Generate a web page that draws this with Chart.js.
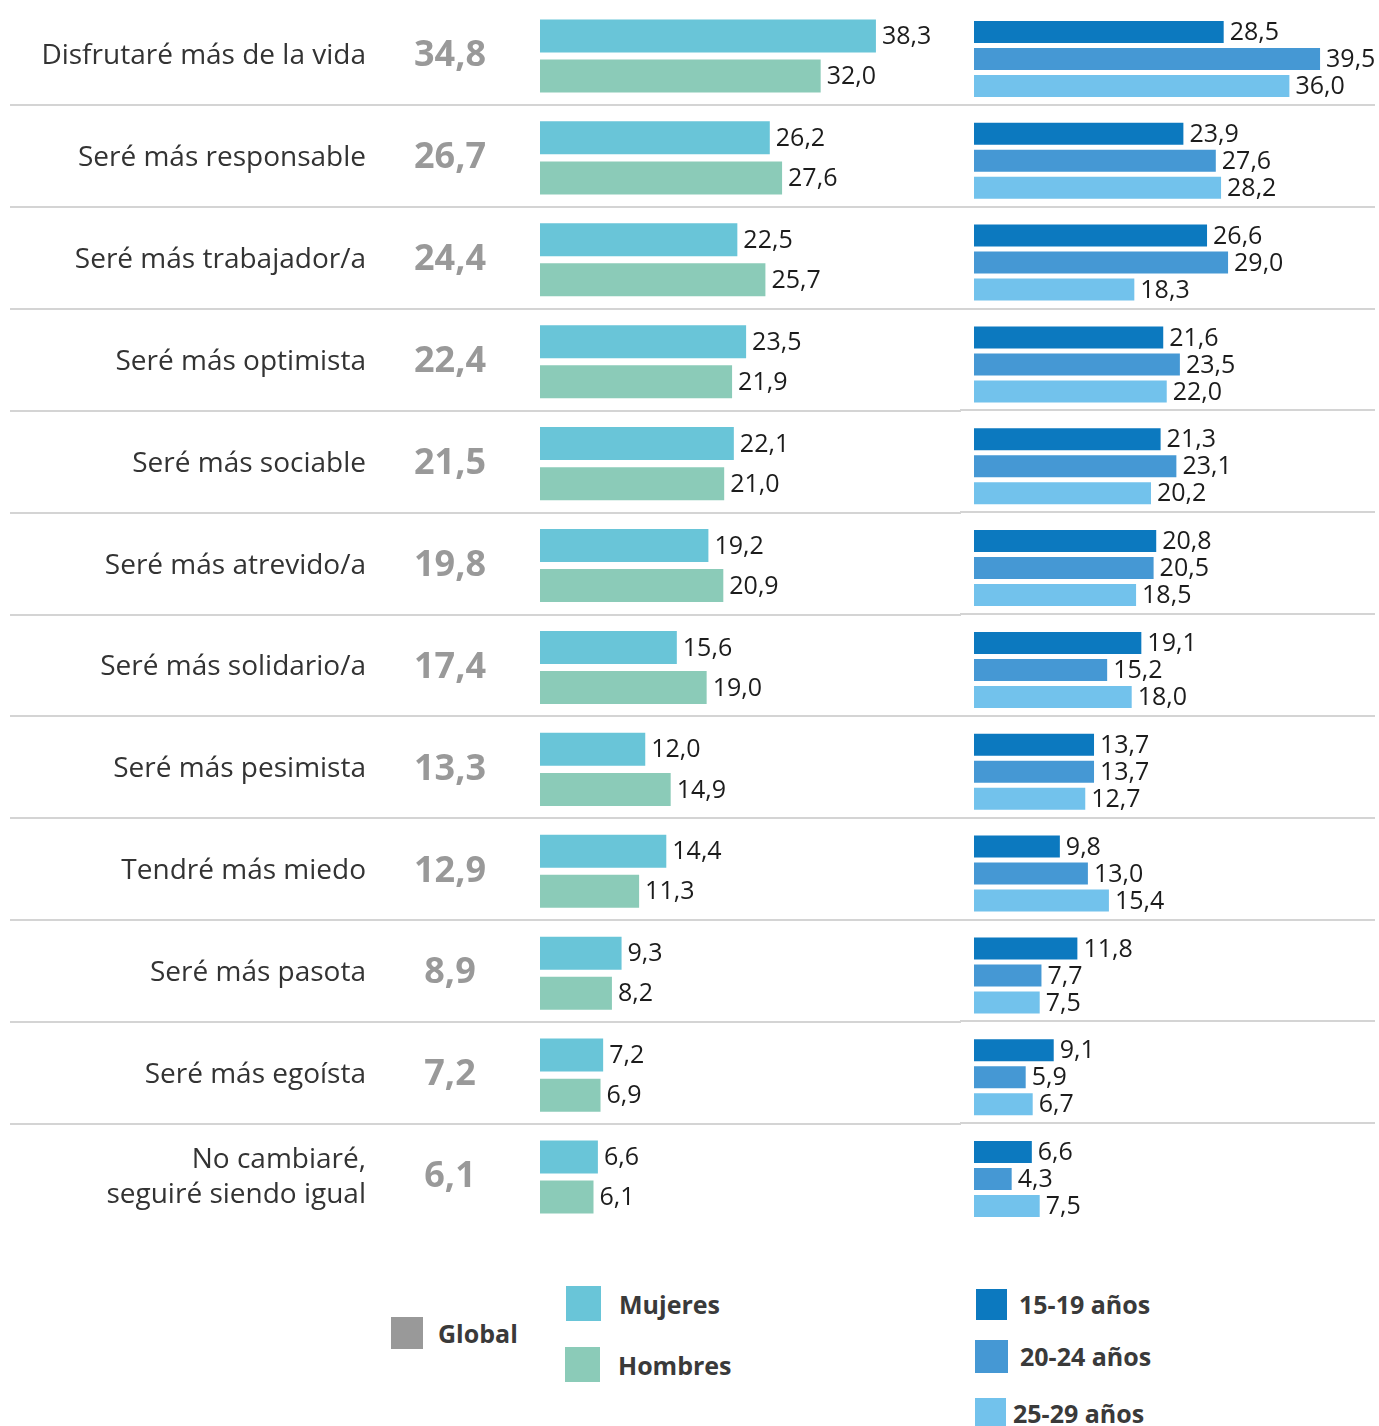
<!DOCTYPE html>
<html lang="es">
<head>
<meta charset="utf-8">
<title>Cómo cambiaré</title>
<script src="https://cdn.jsdelivr.net/npm/chart.js@4.4.1/dist/chart.umd.min.js"></script>
<style>
  html, body { margin: 0; padding: 0; background: #fff; }
  body { width: 1379px; height: 1426px; position: relative; overflow: hidden; font-family: "Open Sans", sans-serif; }
  canvas { position: absolute; top: 0; }
  #graficoSexo { left: 0; }
  #graficoEdad { left: 960px; }
  .leyenda { position: absolute; display: flex; align-items: center; font-weight: 700; font-size: 25px; color: #3a3a3a; white-space: nowrap; }
  .leyenda .caja { display: inline-block; flex: none; }
</style>
</head>
<body>
<canvas id="graficoSexo" width="961" height="1230"></canvas>
<canvas id="graficoEdad" width="419" height="1230"></canvas>
<div id="leyendas"></div>

<script>
// ================================
// Datos (%)
// ================================
const categorias = [
  "Disfrutaré más de la vida",
  "Seré más responsable",
  "Seré más trabajador/a",
  "Seré más optimista",
  "Seré más sociable",
  "Seré más atrevido/a",
  "Seré más solidario/a",
  "Seré más pesimista",
  "Tendré más miedo",
  "Seré más pasota",
  "Seré más egoísta",
  ["No cambiaré,", "seguiré siendo igual"],
];

const global   = [34.8, 26.7, 24.4, 22.4, 21.5, 19.8, 17.4, 13.3, 12.9, 8.9, 7.2, 6.1];
const mujeres  = [38.3, 26.2, 22.5, 23.5, 22.1, 19.2, 15.6, 12.0, 14.4, 9.3, 7.2, 6.6];
const hombres  = [32.0, 27.6, 25.7, 21.9, 21.0, 20.9, 19.0, 14.9, 11.3, 8.2, 6.9, 6.1];
const edad1519 = [28.5, 23.9, 26.6, 21.6, 21.3, 20.8, 19.1, 13.7, 9.8, 11.8, 9.1, 6.6];
const edad2024 = [39.5, 27.6, 29.0, 23.5, 23.1, 20.5, 15.2, 13.7, 13.0, 7.7, 5.9, 4.3];
const edad2529 = [36.0, 28.2, 18.3, 22.0, 20.2, 18.5, 18.0, 12.7, 15.4, 7.5, 6.7, 7.5];

const nombresSexo = ["Mujeres", "Hombres"];
const nombresEdad = ["15-19 años", "20-24 años", "25-29 años"];

// ================================
// Estilos
// ================================
const FUENTE = "'Open Sans', sans-serif";
const COLOR_GLOBAL = "#999999";
const COLORES_SEXO = ["#69c5d8", "#8bcbb8"];
const COLORES_EDAD = ["#0c79bf", "#4598d4", "#72c2ec"];

const formato = (v) => v.toFixed(1).replace(".", ",");

// Centro de la fila i
function centroFila(chart, i) {
  return chart.scales.y.getPixelForValue(i);
}

// Líneas grises separando cada fila
const separadores = {
  id: "separadores",
  beforeDatasetsDraw(chart, args, opts) {
    const ctx = chart.ctx;
    const dy = opts.dy || 0;
    ctx.save();
    ctx.strokeStyle = "#d4d4d4";
    ctx.lineWidth = 2;
    for (let i = 0; i < categorias.length - 1; i++) {
      const y = Math.round((centroFila(chart, i) + centroFila(chart, i + 1)) / 2 + dy);
      ctx.beginPath();
      ctx.moveTo(opts.x0, y);
      ctx.lineTo(opts.x1, y);
      ctx.stroke();
    }
    ctx.restore();
  },
};

// Valor al final de cada barra
const valores = {
  id: "valores",
  afterDatasetsDraw(chart) {
    const ctx = chart.ctx;
    ctx.save();
    ctx.font = "400 25px " + FUENTE;
    ctx.fillStyle = "#1c1c1c";
    ctx.textAlign = "left";
    ctx.textBaseline = "middle";
    chart.data.datasets.forEach((ds, d) => {
      chart.getDatasetMeta(d).data.forEach((barra, i) => {
        ctx.fillText(formato(ds.data[i]), barra.x + 6, barra.y + 1);
      });
    });
    ctx.restore();
  },
};

// Porcentaje global en gris, junto a la etiqueta
const globales = {
  id: "globales",
  afterDraw(chart) {
    const ctx = chart.ctx;
    ctx.save();
    ctx.font = "700 36px " + FUENTE;
    ctx.fillStyle = COLOR_GLOBAL;
    ctx.textAlign = "center";
    ctx.textBaseline = "middle";
    global.forEach((v, i) => ctx.fillText(formato(v), 450, centroFila(chart, i)));
    ctx.restore();
  },
};

const opcionesBase = {
  indexAxis: "y",
  responsive: false,
  animation: false,
  devicePixelRatio: 1,
  plugins: { legend: { display: false }, tooltip: { enabled: false } },
};

// ================================
// Gráfico por sexo (con etiquetas)
// ================================
new Chart(document.getElementById("graficoSexo"), {
  type: "bar",
  data: {
    labels: categorias,
    datasets: [mujeres, hombres].map((serie, k) => ({
      label: nombresSexo[k],
      data: serie,
      backgroundColor: COLORES_SEXO[k],
      categoryPercentage: 0.785,
      barPercentage: 0.825,
    })),
  },
  options: {
    ...opcionesBase,
    layout: { padding: { top: 5, bottom: 2, left: 0, right: 0 } },
    plugins: { ...opcionesBase.plugins, separadores: { x0: 10, x1: 961, dy: -2 } },
    scales: {
      x: { display: false, min: 0, max: 48 },
      y: {
        grid: { display: false, drawTicks: false },
        border: { display: false },
        ticks: {
          padding: 174,
          color: "#333333",
          font: { family: FUENTE, size: 28, lineHeight: 1.25 },
        },
        afterFit(scale) {
          // ancho fijo para la columna de etiquetas y sin relleno vertical extra
          scale.width = 540;
          scale.paddingTop = 0;
          scale.paddingBottom = 0;
        },
      },
    },
  },
  plugins: [separadores, valores, globales],
});

// ================================
// Gráfico por edad
// ================================
new Chart(document.getElementById("graficoEdad"), {
  type: "bar",
  data: {
    labels: categorias,
    datasets: [edad1519, edad2024, edad2529].map((serie, k) => ({
      label: nombresEdad[k],
      data: serie,
      backgroundColor: COLORES_EDAD[k],
      categoryPercentage: 0.795,
      barPercentage: 0.815,
    })),
  },
  options: {
    ...opcionesBase,
    layout: { padding: { top: 8, bottom: 0, left: 14, right: 2 } },
    plugins: { ...opcionesBase.plugins, separadores: { x0: 0, x1: 415, dy: -5 } },
    scales: {
      x: { display: false, min: 0, max: 46 },
      y: { display: false },
    },
  },
  plugins: [separadores, valores],
});

// ================================
// Leyenda
// ================================
const leyendas = [
  { texto: "Global", color: COLOR_GLOBAL, x: 391, y: 1316, caja: 32, gap: 15 },
  { texto: nombresSexo[0], color: COLORES_SEXO[0], x: 566, y: 1286, caja: 35, gap: 18 },
  { texto: nombresSexo[1], color: COLORES_SEXO[1], x: 565, y: 1347, caja: 35, gap: 18 },
  { texto: nombresEdad[0], color: COLORES_EDAD[0], x: 976, y: 1287, caja: 31, gap: 12 },
  { texto: nombresEdad[1], color: COLORES_EDAD[1], x: 975, y: 1339, caja: 33, gap: 12 },
  { texto: nombresEdad[2], color: COLORES_EDAD[2], x: 975, y: 1396, caja: 31, gap: 7 },
];

const contenedor = document.getElementById("leyendas");
leyendas.forEach((l) => {
  const item = document.createElement("div");
  item.className = "leyenda";
  item.style.left = l.x + "px";
  item.style.top = l.y + "px";
  const caja = document.createElement("span");
  caja.className = "caja";
  caja.style.width = l.caja + "px";
  caja.style.height = l.caja + "px";
  caja.style.background = l.color;
  caja.style.marginRight = l.gap + "px";
  const texto = document.createElement("span");
  texto.textContent = l.texto;
  item.appendChild(caja);
  item.appendChild(texto);
  contenedor.appendChild(item);
});
</script>
</body>
</html>
